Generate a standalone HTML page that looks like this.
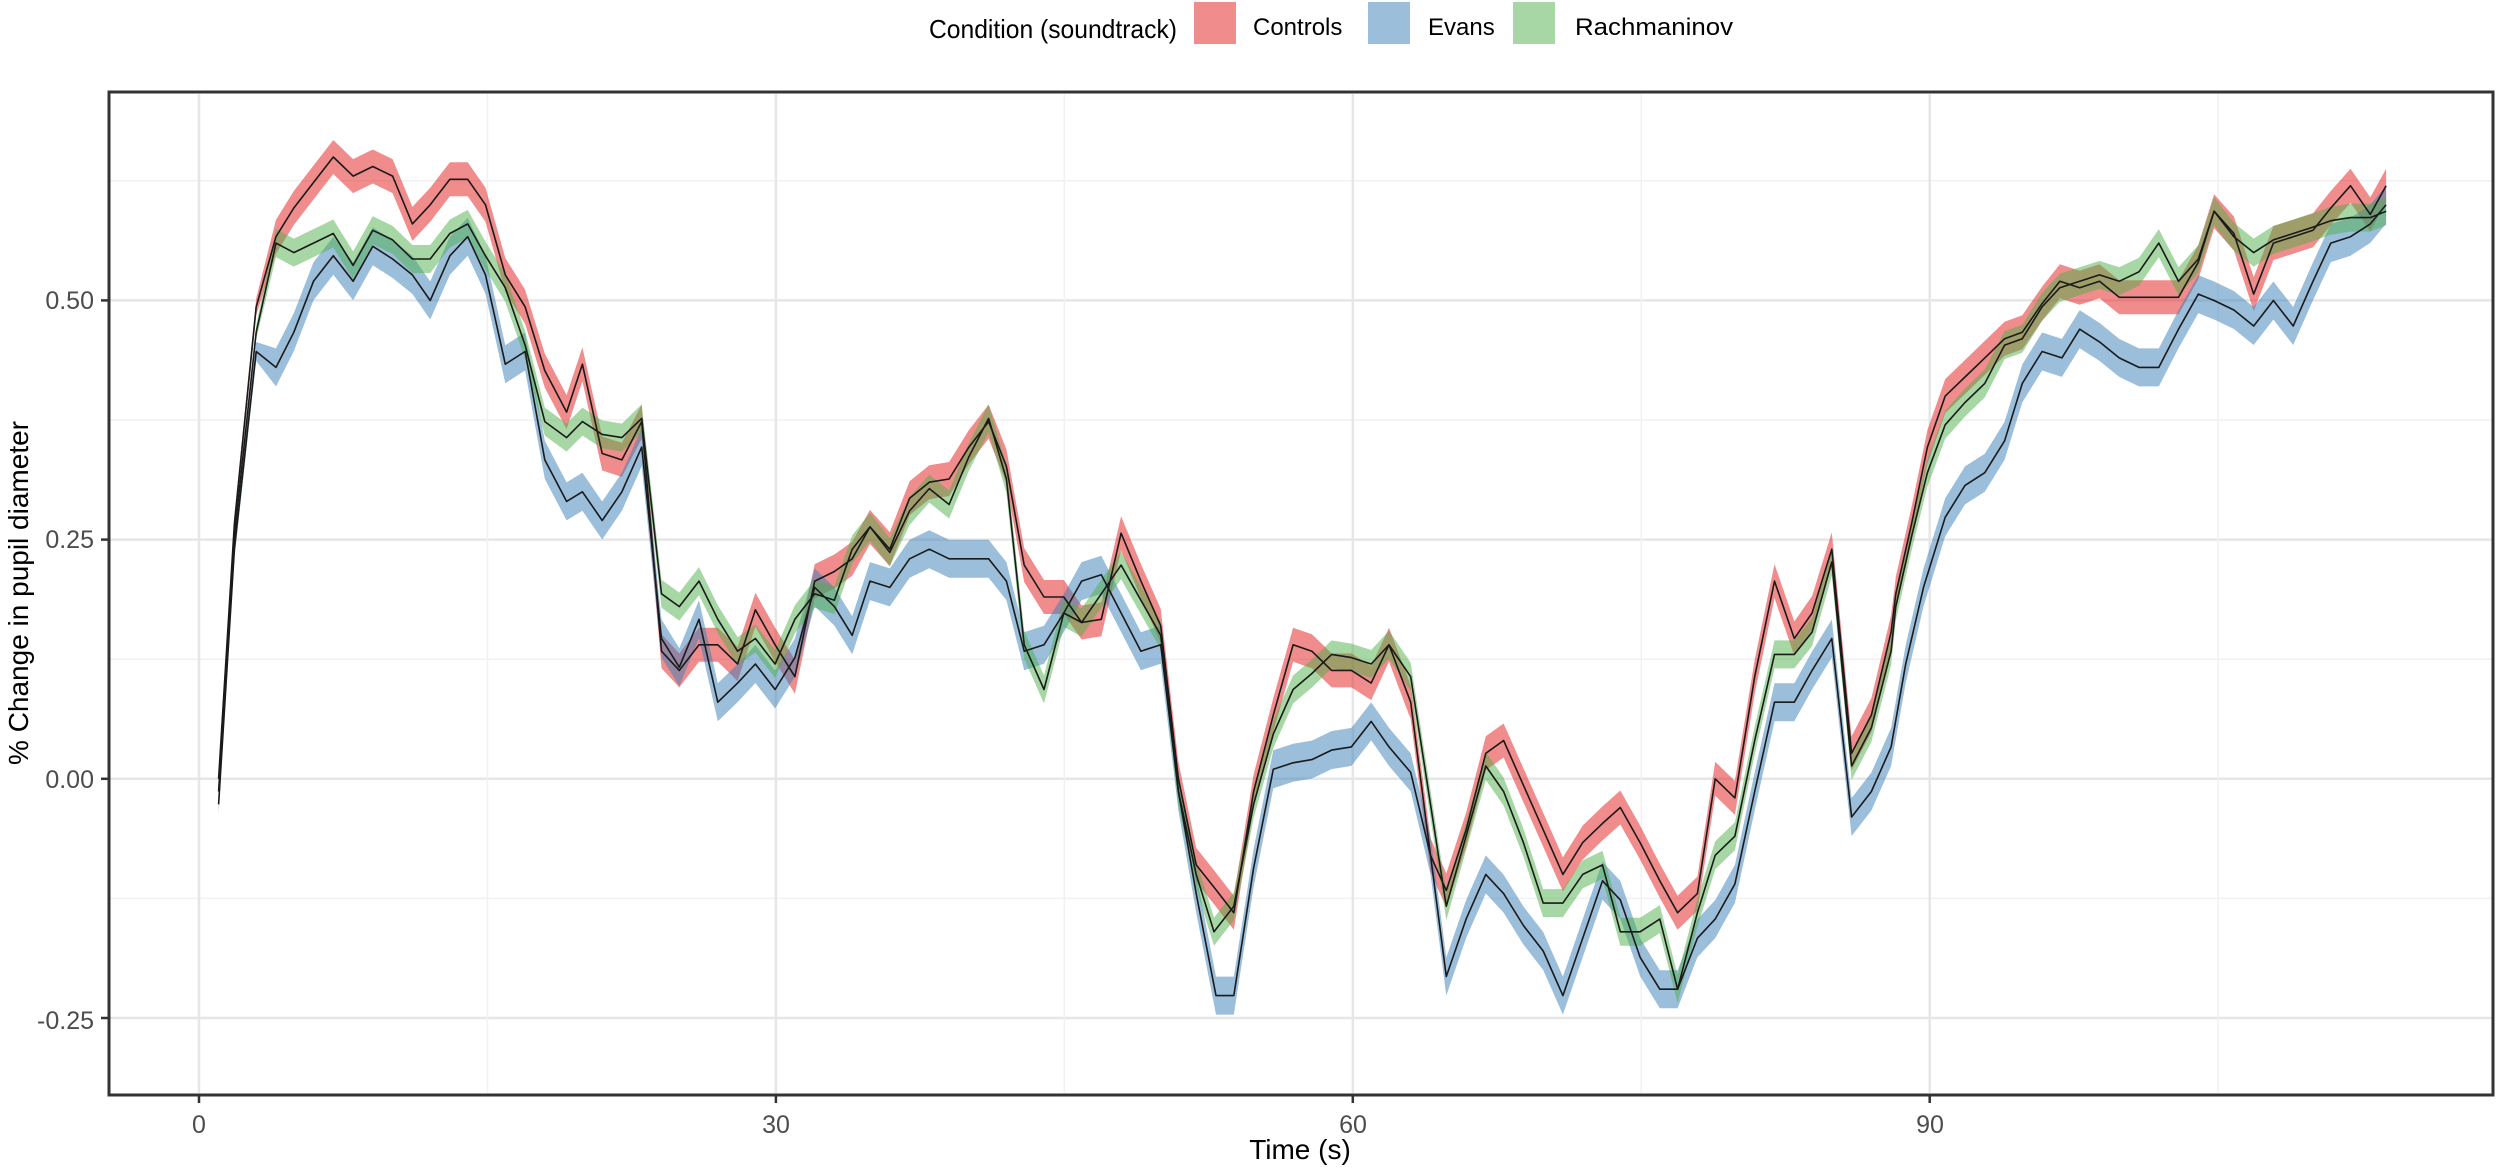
<!DOCTYPE html>
<html><head><meta charset="utf-8"><style>
html,body{margin:0;padding:0;background:#fff;}
svg{display:block;font-family:"Liberation Sans",Arial,sans-serif;}
</style></head><body>
<svg id="s" width="2500" height="1172" viewBox="0 0 2500 1172" xmlns="http://www.w3.org/2000/svg">
<rect width="2500" height="1172" fill="#fff"/>
<g id="grid"></g>
<g id="bands"></g>
<g id="lines" fill="none" stroke="#1a1a1a" stroke-width="1.6" stroke-linejoin="round"></g>
<rect x="109" y="92" width="2384" height="1003" fill="none" stroke="#333" stroke-width="3"/>
<g id="ticks" stroke="#333" stroke-width="2.5"></g>
<g font-size="25" fill="#4d4d4d" text-anchor="end">
<text x="94" y="309">0.50</text>
<text x="94" y="548">0.25</text>
<text x="94" y="788">0.00</text>
<text x="94" y="1029">-0.25</text>
</g>
<g font-size="25" fill="#4d4d4d" text-anchor="middle">
<text x="199" y="1133">0</text>
<text x="776" y="1133">30</text>
<text x="1353" y="1133">60</text>
<text x="1930" y="1133">90</text>
</g>
<text x="1300" y="1159" font-size="28" text-anchor="middle" fill="#000">Time (s)</text>
<text transform="translate(28,593) rotate(-90)" font-size="28" text-anchor="middle" fill="#000">% Change in pupil diameter</text>
<text x="929" y="38" font-size="26" textLength="248" lengthAdjust="spacingAndGlyphs" fill="#000">Condition (soundtrack)</text>
<rect x="1194" y="2" width="42" height="42" fill="#F18C8D"/>
<text x="1253" y="35" font-size="24" fill="#000">Controls</text>
<rect x="1368" y="2" width="42" height="42" fill="#9BBEDB"/>
<text x="1428" y="35" font-size="24" fill="#000">Evans</text>
<rect x="1513" y="2" width="42" height="42" fill="#A6D7A4"/>
<text x="1575" y="35" font-size="24" textLength="158" lengthAdjust="spacingAndGlyphs" fill="#000">Rachmaninov</text>
</svg>
<script>
var NS="http://www.w3.org/2000/svg";
function el(p,t,a){var e=document.createElementNS(NS,t);for(var k in a)e.setAttribute(k,a[k]);p.appendChild(e);return e;}
var grid=document.getElementById('grid');
var y0=778.8,yp=956.8;
for(var v=-0.375;v<=0.7;v+=0.125){var y=y0-v*yp;if(y<94||y>1093)continue;var maj=Math.abs((v*4)-Math.round(v*4))<1e-6;
el(grid,'line',{x1:110,x2:2492,y1:y,y2:y,stroke:maj?'#e6e6e6':'#f1f1f1','stroke-width':maj?2.5:1.5});}
for(var t=0;t<=105;t+=15){var x=199+19.23*t;var maj=t%30==0;
el(grid,'line',{x1:x,x2:x,y1:94,y2:1093,stroke:maj?'#e6e6e6':'#f1f1f1','stroke-width':maj?2.5:1.5});}
var tk=document.getElementById('ticks');
[0.5,0.25,0,-0.25].forEach(function(v){var y=y0-v*yp;el(tk,'line',{x1:101,x2:109,y1:y,y2:y});});
[0,30,60,90].forEach(function(t){var x=199+19.23*t;el(tk,'line',{x1:x,x2:x,y1:1095,y2:1103});});

var Z=[
{ox:100,
r:[[300,1080],[340,680],[395,340],[445,230],[490,185],[540,145],[590,105],[640,135],[690,120],[740,135],[790,210],[835,180],[885,140],[930,140],[975,180],[1025,290],[1075,340],[1125,440],[1180,505],[1220,430],[1270,570],[1320,580],[1370,520],[1420,880],[1465,910],[1515,870]],
g:[[300,1100],[340,700],[395,380],[445,240],[490,255],[540,240],[590,225],[640,275],[690,220],[740,235],[790,265],[835,265],[885,225],[930,210],[975,260],[1025,310],[1075,400],[1125,520],[1180,545],[1220,520],[1270,540],[1320,545],[1370,515],[1420,790],[1465,810],[1515,770]],
b:[[300,1120],[340,720],[395,410],[445,435],[490,380],[540,300],[590,260],[640,300],[690,245],[740,265],[790,290],[835,330],[885,260],[930,230],[975,290],[1025,430],[1075,410],[1125,580],[1180,645],[1220,630],[1270,675],[1320,630],[1370,560],[1420,860],[1465,905],[1515,830]]},
{ox:700,
r:[[0,850],[45,870],[95,900],[140,815],[190,870],[240,920],[290,770],[340,755],[385,735],[430,685],[480,720],[530,640],[580,615],[630,610],[680,560],[730,520],[775,590],[820,745],[870,795],[920,795],[965,835],[1015,830],[1065,695],[1115,770],[1165,840],[1210,1080],[1255,1215],[1300,1250],[1350,1290],[1400,1100],[1450,980],[1500,870]],
g:[[0,760],[45,830],[95,880],[140,860],[190,900],[240,830],[290,790],[340,800],[385,720],[430,685],[480,725],[530,660],[580,625],[630,650],[680,575],[730,515],[775,610],[820,870],[870,940],[920,820],[965,835],[1015,790],[1065,745],[1115,800],[1165,855],[1210,1100],[1255,1230],[1300,1320],[1350,1280],[1400,1120],[1450,1010],[1500,940]],
b:[[0,860],[45,960],[95,930],[140,900],[190,940],[240,890],[290,780],[340,810],[385,855],[430,770],[480,780],[530,735],[580,720],[630,735],[680,735],[730,735],[775,770],[820,880],[870,870],[920,820],[965,770],[1015,760],[1065,820],[1115,880],[1165,870],[1210,1100],[1255,1260],[1305,1420],[1350,1420],[1400,1220],[1450,1065],[1500,1055]]},
{ox:1300,
r:[[30,880],[80,910],[130,910],[180,930],[225,870],[280,960],[330,1200],[370,1255],[420,1160],[470,1040],[515,1020],[565,1090],[615,1160],[665,1230],[715,1180],[765,1150],[810,1125],[860,1180],[910,1240],[955,1290],[1005,1260],[1050,1080],[1100,1110],[1150,920],[1200,770],[1250,860],[1295,820],[1345,720],[1395,1040],[1445,980],[1495,850]],
g:[[30,915],[80,885],[130,890],[180,900],[225,870],[280,920],[330,1120],[370,1280],[420,1170],[470,1060],[515,1100],[565,1180],[615,1275],[665,1275],[715,1230],[765,1215],[810,1320],[860,1320],[910,1300],[955,1410],[1005,1290],[1050,1200],[1100,1170],[1150,1020],[1200,885],[1250,885],[1295,850],[1345,740],[1395,1060],[1445,1000],[1495,880]],
b:[[30,1050],[80,1035],[130,1030],[180,990],[225,1030],[280,1070],[330,1200],[370,1390],[420,1300],[470,1230],[515,1260],[565,1310],[615,1350],[665,1420],[715,1330],[765,1240],[810,1270],[860,1360],[910,1410],[955,1410],[1005,1330],[1050,1300],[1100,1245],[1150,1100],[1200,960],[1250,960],[1295,910],[1345,860],[1395,1140],[1445,1100],[1495,1030]]},
{ox:1880,
r:[[0,870],[40,790],[80,680],[120,560],[165,480],[215,450],[265,420],[315,390],[360,380],[410,335],[455,300],[505,310],[555,300],[605,325],[655,325],[705,325],[755,325],[805,270],[845,190],[895,225],[945,320],[995,240],[1045,230],[1095,220],[1140,185],[1190,150],[1240,195],[1280,150]],
g:[[0,960],[40,810],[80,700],[120,600],[165,525],[215,490],[265,460],[315,400],[360,390],[410,340],[455,310],[505,300],[555,290],[605,300],[655,285],[705,240],[755,300],[805,265],[845,190],[895,230],[945,255],[995,235],[1045,225],[1095,215],[1140,205],[1190,200],[1240,200],[1280,190]],
b:[[0,1070],[25,1030],[65,900],[110,780],[165,670],[215,620],[265,600],[315,550],[360,460],[410,410],[460,420],[505,375],[555,395],[605,420],[655,435],[705,435],[755,375],[805,320],[845,330],[895,345],[945,370],[995,330],[1045,370],[1095,300],[1140,240],[1190,230],[1240,210],[1280,180]]}
];
function series(k){var out=[],mx=-1;Z.forEach(function(z){z[k].forEach(function(p){var x=z.ox+p[0]*620/1568,y=90+p[1]*1000/1568;if(x>mx+3){out.push([x,y]);mx=x;}});});return out;}
var S={r:series('r'),b:series('b'),g:series('g')};
var col={r:'#E41A1C',b:'#377EB8',g:'#4DAF4A'},hw={r:17,b:19,g:14};
var bands=document.getElementById('bands'),lines=document.getElementById('lines');
['r','b','g'].forEach(function(k){var p=S[k],h=hw[k],up=[],dn=[];
p.forEach(function(q,i){var w=h*(i<3?0.5:1);up.push(q[0].toFixed(1)+','+(q[1]-w).toFixed(1));dn.unshift(q[0].toFixed(1)+','+(q[1]+w).toFixed(1));});
el(bands,'polygon',{points:up.concat(dn).join(' '),fill:col[k],'fill-opacity':0.5});});
['r','b','g'].forEach(function(k){el(lines,'polyline',{points:S[k].map(function(q){return q[0].toFixed(1)+','+q[1].toFixed(1);}).join(' ')});});
</script>
</body></html>
